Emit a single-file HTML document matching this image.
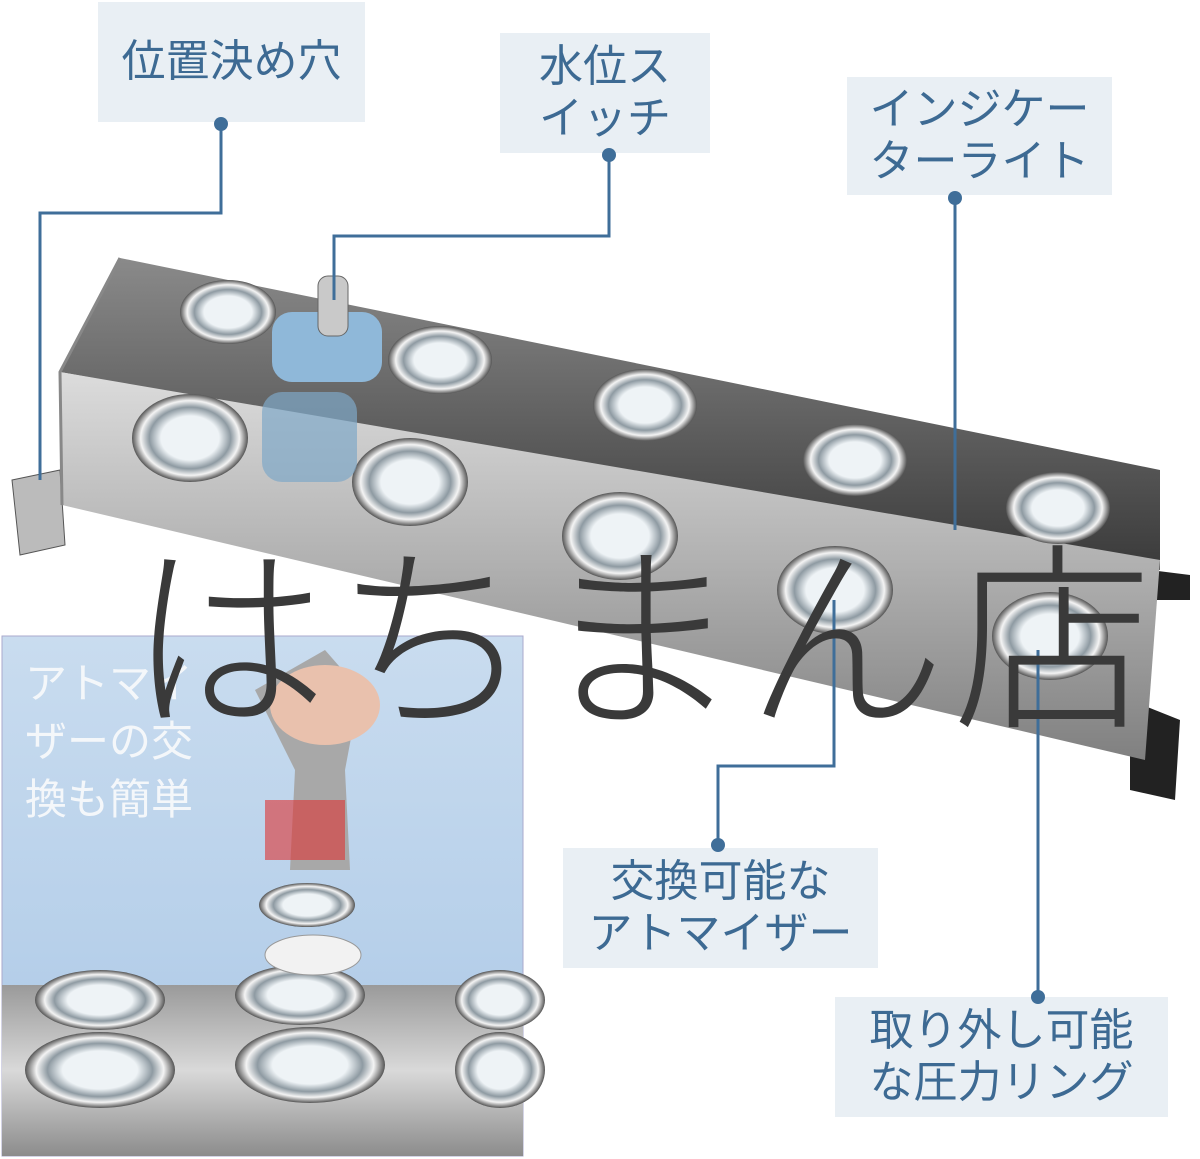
<!DOCTYPE html>
<html><head><meta charset="utf-8">
<style>
html,body{margin:0;padding:0;}
body{width:1200px;height:1159px;position:relative;background:#fff;overflow:hidden;font-family:"Liberation Sans","Noto Sans CJK JP",sans-serif;}
.lab{position:absolute;background:#e9eff4;color:#3d6a93;font-size:44px;line-height:52px;text-align:center;display:flex;align-items:center;justify-content:center;}
.wm{position:absolute;left:128px;top:510px;font-size:200px;line-height:230px;color:#3a3a3a;letter-spacing:6px;white-space:nowrap;font-family:"Noto Sans CJK JP",sans-serif;font-weight:300;}
</style></head><body>
<svg width="1200" height="1159" style="position:absolute;left:0;top:0">
<defs>
<linearGradient id="front" x1="0" y1="0" x2="0" y2="1"><stop offset="0" stop-color="#dcdcdc"/><stop offset="0.5" stop-color="#b0b0b0"/><stop offset="1" stop-color="#808080"/></linearGradient>
<linearGradient id="top" x1="0" y1="0" x2="0" y2="1"><stop offset="0" stop-color="#8a8a8a"/><stop offset="1" stop-color="#3a3a3a"/></linearGradient>
<linearGradient id="inset" x1="0" y1="0" x2="0" y2="1"><stop offset="0" stop-color="#c9dcef"/><stop offset="0.6" stop-color="#b7d0ea"/><stop offset="1" stop-color="#a8c4e2"/></linearGradient>
<linearGradient id="metal" x1="0" y1="0" x2="0" y2="1"><stop offset="0" stop-color="#9a9a9a"/><stop offset="0.5" stop-color="#d9d9d9"/><stop offset="1" stop-color="#8c8c8c"/></linearGradient>
<radialGradient id="ring"><stop offset="0.5" stop-color="#eef3f6"/><stop offset="0.7" stop-color="#8e9aa2"/><stop offset="0.85" stop-color="#f4f4f4"/><stop offset="1" stop-color="#555"/></radialGradient>
</defs>
<path d="M70,365 L100,325 L125,325 L115,375 Z" fill="#2a2a2a"/>
<path d="M12,480 L60,470 L65,545 L20,555 Z" fill="#bbb" stroke="#555"/>
<path d="M1130,700 L1180,720 L1175,800 L1130,790 Z" fill="#222"/>
<path d="M1150,570 L1190,575 L1190,600 L1150,600 Z" fill="#222"/>
<path d="M120,258 L1160,470 L1160,570 L60,372 Z" fill="url(#top)"/>
<path d="M60,372 L1160,560 L1145,760 L62,505 Z" fill="url(#front)"/>
<path d="M120,258 L60,372 L62,505" fill="none" stroke="#888" stroke-width="3"/>
<g fill="url(#ring)">
<ellipse cx="228" cy="312" rx="48" ry="32"/><ellipse cx="440" cy="360" rx="52" ry="34"/><ellipse cx="645" cy="405" rx="52" ry="36"/><ellipse cx="855" cy="460" rx="52" ry="36"/><ellipse cx="1058" cy="508" rx="52" ry="36"/>
<ellipse cx="190" cy="438" rx="58" ry="44"/><ellipse cx="410" cy="482" rx="58" ry="44"/><ellipse cx="620" cy="536" rx="58" ry="44"/><ellipse cx="835" cy="590" rx="58" ry="44"/><ellipse cx="1050" cy="636" rx="58" ry="44"/>
</g>
<rect x="272" y="312" width="110" height="70" rx="20" fill="#8fb8d9"/>
<rect x="262" y="392" width="95" height="90" rx="20" fill="#7fa8c8" opacity="0.7"/>
<rect x="318" y="276" width="30" height="60" rx="10" fill="#c9c9c9" stroke="#666"/>
<rect x="2" y="636" width="521" height="520" fill="url(#inset)" stroke="#aac" />
<rect x="2" y="985" width="521" height="171" fill="url(#metal)"/>
<g fill="url(#ring)"><ellipse cx="100" cy="1000" rx="65" ry="30"/><ellipse cx="300" cy="995" rx="65" ry="30"/><ellipse cx="500" cy="1000" rx="45" ry="30"/><ellipse cx="100" cy="1070" rx="75" ry="38"/><ellipse cx="310" cy="1065" rx="75" ry="38"/><ellipse cx="500" cy="1070" rx="45" ry="38"/>
<ellipse cx="307" cy="905" rx="48" ry="22"/></g>
<ellipse cx="313" cy="955" rx="48" ry="20" fill="#f2f2f2" stroke="#999"/>
<path d="M255,690 L325,650 L360,690 L345,770 L350,870 L290,870 L295,770 Z" fill="#a8a8a8"/>
<path d="M265,800 L345,800 L345,860 L265,860 Z" fill="#d33" opacity="0.6"/>
<ellipse cx="325" cy="705" rx="55" ry="40" fill="#e9c1ad"/>
<g stroke="#3f6e99" stroke-width="3" fill="none">
<path d="M221,124 V213 H40 V480"/>
<path d="M609,155 V236 H334 V300"/>
<path d="M955,198 V530"/>
<path d="M718,845 V766 H834 V600"/>
<path d="M1038,997 V650"/>
</g>
</svg>
<div class="lab" style="left:98px;top:2px;width:267px;height:120px;">位置決め穴</div>
<div class="lab" style="left:500px;top:33px;width:210px;height:120px;">水位ス<br>イッチ</div>
<div class="lab" style="left:847px;top:77px;width:265px;height:118px;">インジケー<br>ターライト</div>
<div class="lab" style="left:563px;top:848px;width:315px;height:120px;">交換可能な<br>アトマイザー</div>
<div class="lab" style="left:835px;top:997px;width:333px;height:120px;">取り外し可能<br>な圧力リング</div>
<svg width="1200" height="1159" style="position:absolute;left:0;top:0">
<g fill="#3f6e99"><circle cx="221" cy="124" r="7"/><circle cx="609" cy="155" r="7"/><circle cx="955" cy="198" r="7"/><circle cx="718" cy="845" r="7"/><circle cx="1038" cy="997" r="7"/></g>
</svg>
<div style="position:absolute;left:25px;top:655px;color:#f4f7fa;font-size:42px;line-height:58px;">アトマイ<br>ザーの交<br>換も簡単</div>
<div class="wm">はちまん店</div>
</body></html>
